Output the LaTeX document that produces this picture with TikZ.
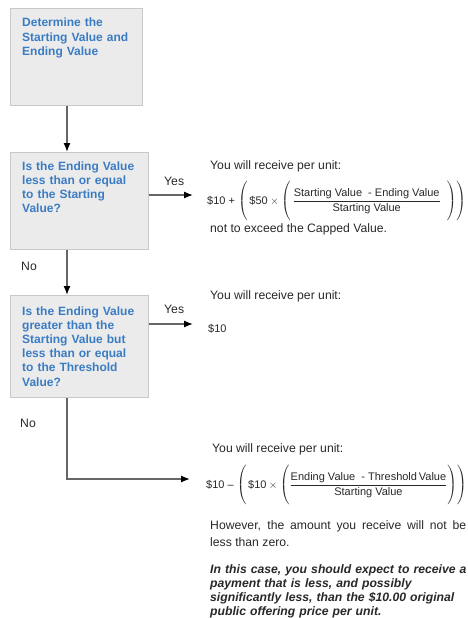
\documentclass[tikz,border=0pt]{standalone}
\usepackage{fontspec}
\setmainfont{Liberation Sans}
\usepackage{amsmath}
\usetikzlibrary{calc,arrows.meta,positioning}

\definecolor{boxfill}{RGB}{235,235,235}
\definecolor{boxline}{RGB}{200,200,200}
\definecolor{qblue}{RGB}{58,124,196}
\definecolor{txtgray}{RGB}{40,40,40}

\newcommand{\pstrut}{\rule[-16pt]{0pt}{37pt}}

\tikzset{
  box/.style={draw=boxline,fill=boxfill,line width=1.2pt,anchor=north west,inner sep=0pt},
  qtext/.style={anchor=base west,inner sep=0pt,text width=128pt,align=left,
    text=qblue,font=\fontsize{12}{14.2}\selectfont\bfseries},
  rtext/.style={anchor=base west,inner sep=0pt,text=txtgray,
    font=\fontsize{12.2}{14.5}\selectfont},
  frm/.style={anchor=base west,inner sep=0pt,text=txtgray,
    font=\fontsize{11}{12}\selectfont},
  flow/.style={line width=1.3pt,draw=black!60,-{Latex[length=9pt,width=7pt,color=black]}}
}

\begin{document}
\begin{tikzpicture}[x=1pt,y=-1pt]
  \useasboundingbox (0,0) rectangle (467,618);%枠

  \coordinate (L) at (67,0);%縦の線の位置
  \coordinate (A1) at (193,195);%Yes 1 の矢印先
  \coordinate (A2) at (193,324);%Yes 2 の矢印先
  \coordinate (A3) at (190,479);%No 2 の矢印先

  % 左の箱
  \node[box,minimum width=132pt,minimum height=97pt] (B1) at (10,8) {};
  \node[box,minimum width=138pt,minimum height=97pt] (B2) at (10,152) {};
  \node[box,minimum width=138pt,minimum height=102pt] (B3) at (10,295) {};

  \node[qtext] (Q1) at ($(B1.north west)+(12,19)$)
    {Determine the\\Starting Value and\\Ending Value};
  \node[qtext] (Q2) at ($(B2.north west)+(12,18)$)
    {Is the Ending Value\\less than or equal\\to the Starting\\Value?};
  \node[qtext] (Q3) at ($(B3.north west)+(12,20)$)
    {Is the Ending Value\\greater than the\\Starting Value but\\less than or equal\\to the Threshold\\Value?};

  % 矢印
  \draw[flow] (B1.south -| L) -- (B2.north -| L);
  \draw[flow] (B2.south -| L) -- (B3.north -| L);
  \draw[flow] (B2.east |- A1) -- (A1);
  \draw[flow] (B3.east |- A2) -- (A2);
  \draw[flow] (B3.south -| L) |- (A3);

  \node[rtext] (Y1) at (164,185) {Yes};
  \node[rtext] (Y2) at (164,313) {Yes};
  \node[rtext] (N1) at (21,270) {No};
  \node[rtext] (N2) at (20,427) {No};

  % 右の文
  \node[rtext] (R1) at (210,169) {You will receive per unit:};
  \node[frm] (F1) at (207,204)
    {\$10 + $\left(\,\text{\$50} \times
      \left(\pstrut\,\dfrac{\text{Starting Value \ - Ending Value}}{\text{Starting Value}}\;\;\right)\right)$};
  \node[rtext] (R2) at (210,232) {not to exceed the Capped Value.};

  \node[rtext] (R3) at (210,299) {You will receive per unit:};
  \node[frm] (F2) at (208,332) {\$10};

  \node[rtext] (R4) at (212,452) {You will receive per unit:};
  \node[frm] (F3) at (206,488)
    {\$10 -- $\left(\,\text{\$10} \times
      \left(\pstrut\dfrac{\text{Ending Value \ - Threshold\,Value}}{\text{Starting Value}}\right)\right)$};
  \node[rtext,text width=256pt,align=justify,font=\fontsize{12.2}{17}\selectfont] (R5) at (210,529)
    {However, the amount you receive will not be\linebreak less than zero.};
  \node[rtext,text width=262pt,align=left,font=\fontsize{12.2}{14}\selectfont\bfseries\itshape] (R6) at (210,573)
    {In this case, you should expect to receive a\\payment that is less, and possibly\\significantly less, than the \$10.00 original\\public offering price per unit.};

\end{tikzpicture}
\end{document}
